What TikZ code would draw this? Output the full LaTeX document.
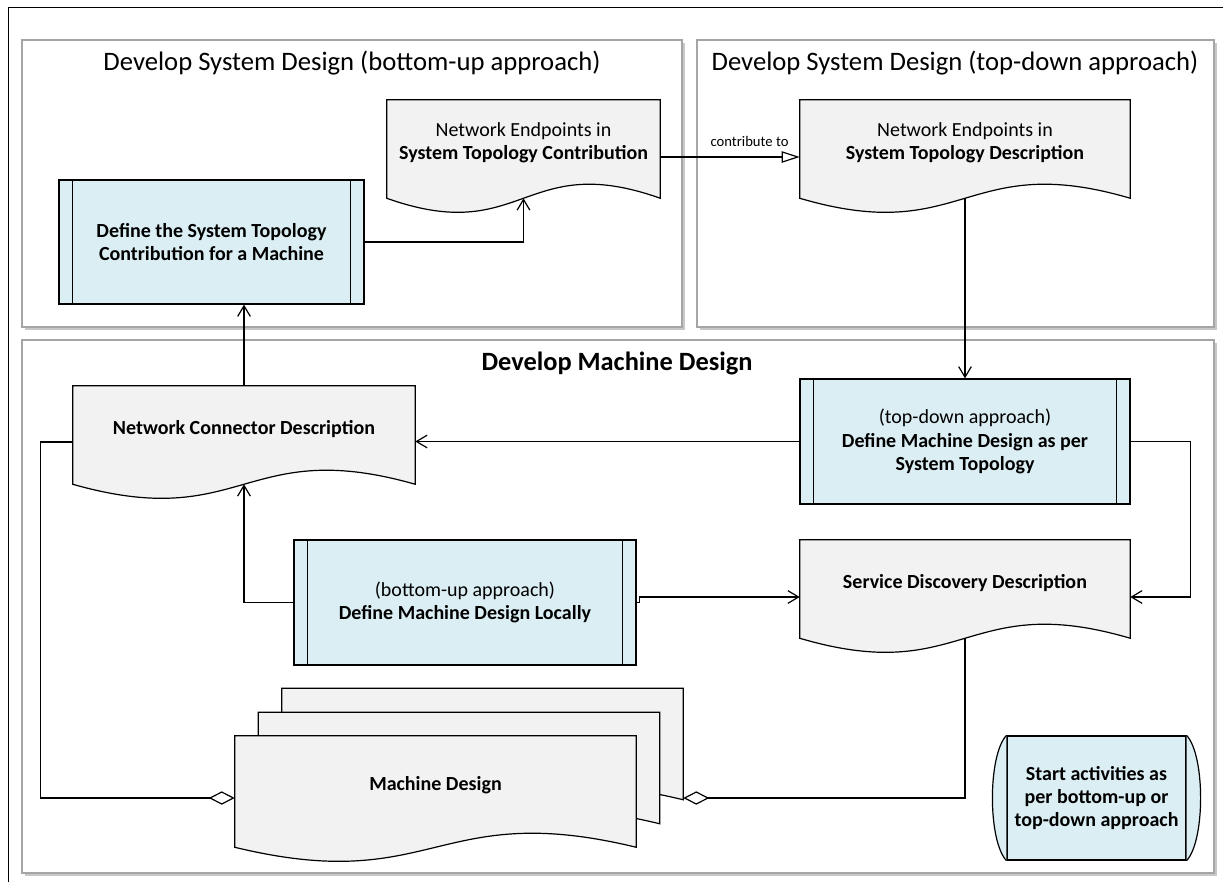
\documentclass[tikz,border=0pt]{standalone}
\usepackage{fontspec}
\setmainfont{Carlito}
\usetikzlibrary{arrows.meta,backgrounds}
\definecolor{procblue}{RGB}{219,238,244}
\definecolor{docgray}{RGB}{242,242,242}
\definecolor{boxgray}{RGB}{165,165,165}
\newcommand{\docwave}[1]{%
\draw[docline] (#1.north west) -- (#1.north east) -- ([yshift=-9pt]#1.south east)
  .. controls ([yshift=27.5pt]#1.south) and ([yshift=-45.5pt]#1.south) .. ([yshift=-9pt]#1.south west) -- cycle;}
\begin{document}
\begin{tikzpicture}[x=0.75pt,y=-0.75pt,
  proc/.style={draw,fill=procblue,line width=0.9pt,align=center,inner sep=0pt,font=\bfseries\fontsize{15}{17.6}\selectfont},
  doc/.style={align=center,inner sep=0pt,font=\fontsize{15}{17.6}\selectfont},
  docline/.style={draw,fill=docgray,line width=0.9pt},
  cont/.style={draw=boxgray,fill=white,line width=0.8pt},
  title/.style={font=\fontsize{20}{24}\selectfont},
  arr/.style={line width=0.9pt,-{Straight Barb[length=8pt,width=9.5pt]}},
  agg/.style={line width=0.9pt,-{Diamond[open,length=19.5pt,width=10pt]}}]
\useasboundingbox (0,0) rectangle (1223,882);
\begin{scope}[on background layer]
\foreach \a/\b/\c/\d in {22/40/682/327,697/40/1214/327,22/340/1214/873}{
  \fill[black!22] (\a+3,\b+3) rectangle (\c+3,\d+3);
  \draw[cont] (\a,\b) rectangle (\c,\d);
}
\end{scope}
\draw[line width=0.6pt] (8,882) -- (8,7) -- (1223,7);

\node[title] (t1) at (352,63) {Develop System Design (bottom-up approach)};
\node[title] (t2) at (955,63) {Develop System Design (top-down approach)};
\node[title,font=\bfseries\fontsize{19.8}{24}\selectfont] (t3) at (617,363) {Develop Machine Design};

\node[proc,minimum width=228.75pt,minimum height=93pt] (pA) at (211.5,242) {Define the System Topology\\Contribution for a Machine};
\node[proc,minimum width=247.5pt,minimum height=93.75pt] (pB) at (965,441.5) {{\mdseries (top-down approach)}\\Define Machine Design as per\\System Topology};
\node[proc,minimum width=256.5pt,minimum height=93.75pt] (pC) at (465,602.5) {{\mdseries (bottom-up approach)}\\Define Machine Design Locally};
\foreach \n in {pA,pB,pC}{
  \draw[line width=0.9pt] ([xshift=10.5pt]\n.north west) -- ([xshift=10.5pt]\n.south west);
  \draw[line width=0.9pt] ([xshift=-10.5pt]\n.north east) -- ([xshift=-10.5pt]\n.south east);
}

\node[doc,minimum width=204.75pt,minimum height=64.5pt] (d1) at (523.5,143) {Network Endpoints in\\\textbf{System Topology Contribution}};
\node[doc,minimum width=247.5pt,minimum height=64.5pt] (d2) at (965,143) {Network Endpoints in\\\textbf{System Topology Description}};
\node[doc,minimum width=256.5pt,minimum height=64.5pt] (d3) at (244,429) {\textbf{Network Connector Description}};
\node[doc,minimum width=247.5pt,minimum height=64.5pt] (d4) at (965,583) {\textbf{Service Discovery Description}};
\node[doc,minimum width=300.75pt,minimum height=74.25pt] (md3) at (482.5,738) {};
\node[doc,minimum width=300.75pt,minimum height=74.25pt] (md2) at (459,762) {};
\node[doc,minimum width=300.75pt,minimum height=74.25pt] (md) at (435.5,785.5) {\textbf{Machine Design}};

\node[proc,minimum width=134.25pt,minimum height=93pt] (st) at (1096.5,798) {Start activities as\\per bottom-up or\\top-down approach};
\draw[line width=0.9pt,fill=procblue] (st.north east) .. controls ([xshift=14pt,yshift=-15pt]st.north east) and ([xshift=14pt,yshift=15pt]st.south east) .. (st.south east);
\draw[line width=0.9pt,fill=procblue] (st.north west) .. controls ([xshift=-14pt,yshift=-15pt]st.north west) and ([xshift=-14pt,yshift=15pt]st.south west) .. (st.south west);

\draw[arr] (pA.east) -| ([yshift=-9pt]d1.south);
\draw[line width=0.9pt,-{Triangle[open,length=13.5pt,width=8.5pt]}] ([yshift=-10.5pt]d1.east) -- ([yshift=-10.5pt]d1.east -| d2.west) node[pos=0.64,above=4pt,font=\fontsize{11}{13}\selectfont] {contribute to};
\draw[arr] ([yshift=-9pt]d2.south) -- (pB.north);
\draw[arr] (pB.west) -- (pB.west -| d3.east);
\draw[arr] (pC.west) -| ([yshift=-9pt]d3.south);
\draw[arr] (d3.north) -- (d3.north |- pA.south);
\draw[arr] (pC.east) -- ++(3,0) |- ([yshift=-10.5pt]d4.west);
\draw[arr] (pB.east) -- ++(60,0) |- ([yshift=-10.5pt]d4.east);
\draw[agg] ([yshift=-9pt]d4.south) |- ([yshift=-45pt]md3.east);
\draw[agg] ([yshift=-9.75pt]d3.west) -- ++(-32,0) |- ([yshift=-9.375pt]md.west);

\begin{scope}[on background layer]
\foreach \n in {d1,d2,d3,d4,md3,md2,md}{\docwave{\n}}
\end{scope}
\end{tikzpicture}
\end{document}
